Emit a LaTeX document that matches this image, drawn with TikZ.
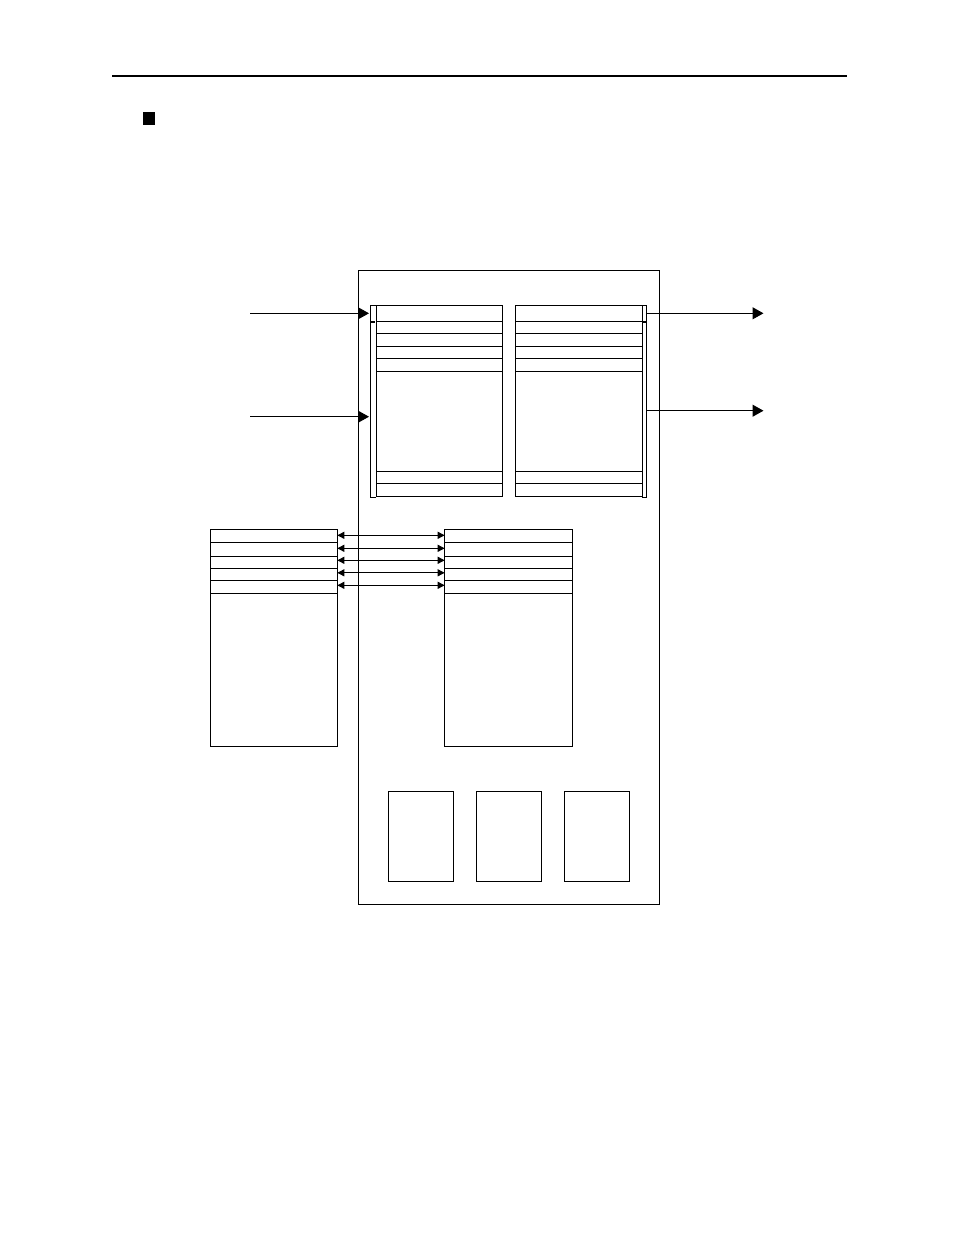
\documentclass[tikz,border=0pt]{standalone}
\usetikzlibrary{arrows.meta,positioning}
\begin{document}
\begin{tikzpicture}[x=1pt,y=-1pt,
  line width=1pt,
  cell/.style={draw,rectangle,inner sep=0pt,outer sep=0pt,anchor=north west},
  bigarrow/.style={-{Triangle[length=11pt,width=12pt]}},
  dblarrow/.style={{Triangle[length=7pt,width=7pt]}-{Triangle[length=7pt,width=7pt]}},
  bracketline/.style={line width=1pt},
  tickmark/.style={line width=2pt}
]
\useasboundingbox (0,0) rectangle (954,1235);
% header
\coordinate (hl) at (112,75.7);
\coordinate (hr) at (846.7,75.7);
\draw[line width=2pt] (hl) -- (hr);
\node[fill=black,inner sep=0pt,minimum width=12.4pt,minimum height=13.3pt,anchor=north west] (bullet) at (142.3,111) {};
% main box
\node[cell,minimum width=301.2pt,minimum height=634pt] (main) at (358.3,270.3) {};
% upper left block
\node[cell,minimum width=126pt,minimum height=16pt] (a1) at (376.3,305.3) {};
\node[cell,minimum width=126pt,minimum height=12pt] (a2) at (a1.south west) {};
\node[cell,minimum width=126pt,minimum height=13pt] (a3) at (a2.south west) {};
\node[cell,minimum width=126pt,minimum height=12pt] (a4) at (a3.south west) {};
\node[cell,minimum width=126pt,minimum height=12.7pt] (a5) at (a4.south west) {};
\node[cell,minimum width=126pt,minimum height=100.3pt] (a6) at (a5.south west) {};
\node[cell,minimum width=126pt,minimum height=12pt] (a7) at (a6.south west) {};
\node[cell,minimum width=126pt,minimum height=13.4pt] (a8) at (a7.south west) {};
% upper right block
\node[cell,minimum width=127pt,minimum height=16pt] (b1) at (515.3,305.3) {};
\node[cell,minimum width=127pt,minimum height=12pt] (b2) at (b1.south west) {};
\node[cell,minimum width=127pt,minimum height=13pt] (b3) at (b2.south west) {};
\node[cell,minimum width=127pt,minimum height=12pt] (b4) at (b3.south west) {};
\node[cell,minimum width=127pt,minimum height=12.7pt] (b5) at (b4.south west) {};
\node[cell,minimum width=127pt,minimum height=100.3pt] (b6) at (b5.south west) {};
\node[cell,minimum width=127pt,minimum height=12pt] (b7) at (b6.south west) {};
\node[cell,minimum width=127pt,minimum height=13.4pt] (b8) at (b7.south west) {};
% brackets
\draw[bracketline] (a1.north west) -- ++(-6,0) -- ++(0,192) -- ++(6,0);
\draw[tickmark] (371,321.7) -- (375.3,321.7);
\draw[bracketline] (b1.north east) -- ++(3.7,0) -- ++(0,192) -- ++(-3.7,0);
\draw[tickmark] (642.3,321.7) -- (646,321.7);
% input / output arrows
\coordinate (in1) at (250,313.3);
\coordinate (in1e) at (369,313.3);
\coordinate (in2) at (250,416.7);
\coordinate (in2e) at (369,416.7);
\coordinate (out1s) at (646.5,313.3);
\coordinate (out1) at (763.5,313.3);
\coordinate (out2s) at (646.5,410.7);
\coordinate (out2) at (763.5,410.7);
\draw[bigarrow] (in1) -- (in1e);
\draw[bigarrow] (in2) -- (in2e);
\draw[bigarrow] (out1s) -- (out1);
\draw[bigarrow] (out2s) -- (out2);
% middle left block
\node[cell,minimum width=126.6pt,minimum height=13pt] (l1) at (210.7,529.3) {};
\node[cell,minimum width=126.6pt,minimum height=14pt] (l2) at (l1.south west) {};
\node[cell,minimum width=126.6pt,minimum height=12pt] (l3) at (l2.south west) {};
\node[cell,minimum width=126.6pt,minimum height=12pt] (l4) at (l3.south west) {};
\node[cell,minimum width=126.6pt,minimum height=13pt] (l5) at (l4.south west) {};
\node[cell,minimum width=126.6pt,minimum height=153.4pt] (l6) at (l5.south west) {};
% middle right block
\node[cell,minimum width=127.6pt,minimum height=13pt] (r1) at (444.7,529.3) {};
\node[cell,minimum width=127.6pt,minimum height=14pt] (r2) at (r1.south west) {};
\node[cell,minimum width=127.6pt,minimum height=12pt] (r3) at (r2.south west) {};
\node[cell,minimum width=127.6pt,minimum height=12pt] (r4) at (r3.south west) {};
\node[cell,minimum width=127.6pt,minimum height=13pt] (r5) at (r4.south west) {};
\node[cell,minimum width=127.6pt,minimum height=153.4pt] (r6) at (r5.south west) {};
% double arrows
\draw[dblarrow] ([yshift=0.5pt]l1.east) -- ([yshift=0.5pt]r1.west);
\draw[dblarrow] ([yshift=1pt]l2.east) -- ([yshift=1pt]r2.west);
\draw[dblarrow] ([yshift=2pt]l3.east) -- ([yshift=2pt]r3.west);
\draw[dblarrow] ([yshift=1.5pt]l4.east) -- ([yshift=1.5pt]r4.west);
\draw[dblarrow] ([yshift=1.5pt]l5.east) -- ([yshift=1.5pt]r5.west);
% bottom boxes
\node[cell,minimum width=65.4pt,minimum height=90pt] (c1) at (388.3,791.3) {};
\node[cell,minimum width=65.4pt,minimum height=90pt] (c2) at (476.3,791.3) {};
\node[cell,minimum width=65.4pt,minimum height=90pt] (c3) at (564.3,791.3) {};
\end{tikzpicture}
\end{document}
